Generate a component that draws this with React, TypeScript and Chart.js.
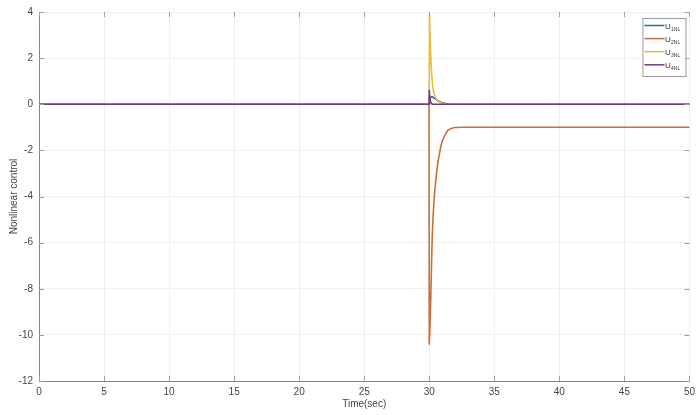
import React, { useEffect, useRef } from "react";
import { Chart, registerables } from "chart.js";

Chart.register(...registerables);

// ---- Data ----
const xTickValues = [0, 5, 10, 15, 20, 25, 30, 35, 40, 45, 50];
const yTickValues = [-12, -10, -8, -6, -4, -2, 0, 2, 4];

const seriesBase = ["U", "U", "U", "U"];
const seriesSubscripts = ["1NL", "2NL", "3NL", "4NL"];

const u1Time = [0, 30, 30.05, 30.1, 30.2, 30.3, 30.5, 30.7, 31.0, 31.3, 31.6, 50];
const u1Values = [0, 0, 0.2, 0.3, 0.33, 0.3, 0.22, 0.14, 0.06, 0.02, 0, 0];

const u2Time = [0, 29.98, 30.0, 30.05, 30.1, 30.15, 30.2, 30.25, 30.3, 30.4, 30.5, 30.6, 30.7, 30.8, 30.9, 31.0, 31.2, 31.4, 31.6, 31.8, 32.0, 32.5, 50];
const u2Values = [0, 0, -10.4, -9.7, -8.7, -7.6, -6.3, -5.4, -4.8, -3.9, -3.3, -2.8, -2.4, -2.1, -1.8, -1.6, -1.35, -1.15, -1.07, -1.03, -1.01, -1.0, -1.0];

const u3Time = [0, 29.99, 30.02, 30.05, 30.1, 30.15, 30.25, 30.35, 30.5, 30.7, 31.0, 31.3, 50];
const u3Values = [0, 0, 3.9, 3.1, 2.3, 1.6, 0.85, 0.5, 0.26, 0.12, 0.04, 0, 0];

const u4Time = [0, 29.99, 30.0, 30.03, 30.08, 30.15, 30.3, 50];
const u4Values = [0, 0, 0.6, 0.4, 0.15, 0.03, 0, 0];

// ---- Styles ----
const FONT = "'Liberation Sans', Arial, Helvetica, sans-serif";
const COLORS = ["#23709f", "#c4703c", "#e6bd36", "#6f3a86"];
const TEXT_COLOR = "#454545";
const GRID_COLOR = "#efefef";
const AXIS_COLOR = "#858585";

const toPoints = (t: number[], v: number[]) => t.map((x, i) => ({ x, y: v[i] }));

const legendPlugin = {
  id: "matlabLegend",
  afterDraw(chart: any) {
    const { ctx, chartArea } = chart;
    const boxL = chartArea.right - 47;
    const boxT = chartArea.top + 6;
    const boxW = 43;
    const boxH = 58;
    ctx.save();
    ctx.fillStyle = "#ffffff";
    ctx.fillRect(boxL, boxT, boxW, boxH);
    ctx.strokeStyle = "#9a9a9a";
    ctx.lineWidth = 1;
    ctx.strokeRect(boxL + 0.5, boxT + 0.5, boxW, boxH);
    chart.data.datasets.forEach((ds: any, i: number) => {
      const y = boxT + 7.5 + i * 13.1;
      ctx.strokeStyle = ds.borderColor;
      ctx.lineWidth = 1.5;
      ctx.beginPath();
      ctx.moveTo(boxL + 2, y);
      ctx.lineTo(boxL + 22, y);
      ctx.stroke();
      ctx.fillStyle = "#333";
      ctx.textBaseline = "alphabetic";
      ctx.textAlign = "left";
      ctx.font = `8px ${FONT}`;
      const base = seriesBase[i];
      ctx.fillText(base, boxL + 22.5, y + 3);
      const w = ctx.measureText(base).width;
      ctx.font = `5px ${FONT}`;
      ctx.fillText(seriesSubscripts[i], boxL + 22.5 + w + 0.3, y + 5);
    });
    ctx.restore();
  },
};

const inwardTicksPlugin = {
  id: "inwardTicks",
  afterDatasetsDraw(chart: any) {
    const { ctx, chartArea, scales } = chart;
    const len = 5;
    ctx.save();
    ctx.strokeStyle = "#a0a0a0";
    ctx.lineWidth = 1;
    ctx.beginPath();
    xTickValues.forEach((v) => {
      const px = Math.round(scales.x.getPixelForValue(v)) + 0.5;
      ctx.moveTo(px, chartArea.bottom);
      ctx.lineTo(px, chartArea.bottom - len);
      ctx.moveTo(px, chartArea.top);
      ctx.lineTo(px, chartArea.top + len);
    });
    yTickValues.forEach((v) => {
      const py = Math.round(scales.y.getPixelForValue(v)) + 0.5;
      ctx.moveTo(chartArea.left, py);
      ctx.lineTo(chartArea.left + len, py);
      ctx.moveTo(chartArea.right, py);
      ctx.lineTo(chartArea.right - len, py);
    });
    ctx.stroke();
    ctx.restore();
  },
};

export default function App() {
  const canvasRef = useRef<HTMLCanvasElement | null>(null);

  useEffect(() => {
    document.body.style.margin = "0";
    const canvas = canvasRef.current;
    if (!canvas) return;
    const seriesTimes = [u1Time, u2Time, u3Time, u4Time];
    const seriesValues = [u1Values, u2Values, u3Values, u4Values];
    const datasets = seriesTimes.map((t, i) => ({
      label: seriesBase[i] + seriesSubscripts[i],
      data: toPoints(t, seriesValues[i]),
      borderColor: COLORS[i],
      backgroundColor: COLORS[i],
      borderWidth: 1.6,
      borderJoinStyle: "round",
      borderCapStyle: "round",
      pointRadius: 0,
      fill: false,
      tension: 0.0001,
      order: 3 - i,
    }));

    const chart = new Chart(canvas, {
      type: "line",
      data: { datasets },
      options: {
        animation: false,
        responsive: false,
        maintainAspectRatio: false,
        layout: { padding: { top: 9, right: 9, left: 0, bottom: 0 } },
        plugins: {
          legend: { display: false },
          tooltip: { enabled: false },
        },
        scales: {
          x: {
            type: "linear",
            min: 0,
            max: 50,
            afterBuildTicks: (scale: any) => {
              scale.ticks = xTickValues.map((v) => ({ value: v }));
            },
            afterFit: (scale: any) => {
              scale.height = 34;
            },
            ticks: {
              color: TEXT_COLOR,
              font: { size: 10, family: FONT },
              padding: 5,
              maxRotation: 0,
              autoSkip: false,
            },
            grid: { color: GRID_COLOR, drawTicks: false, lineWidth: 1 },
            border: { color: AXIS_COLOR, width: 1 },
            title: {
              display: true,
              text: "Time(sec)",
              color: TEXT_COLOR,
              font: { size: 10, family: FONT },
              padding: { top: 0, bottom: 5 },
            },
          },
          y: {
            type: "linear",
            min: -12,
            max: 4,
            afterBuildTicks: (scale: any) => {
              scale.ticks = yTickValues.map((v) => ({ value: v }));
            },
            afterFit: (scale: any) => {
              scale.width = 39;
            },
            ticks: {
              color: TEXT_COLOR,
              font: { size: 10, family: FONT },
              padding: 6,
              autoSkip: false,
            },
            grid: { color: GRID_COLOR, drawTicks: false, lineWidth: 1 },
            border: { color: AXIS_COLOR, width: 1 },
            title: {
              display: true,
              text: "Nonlinear control",
              color: TEXT_COLOR,
              font: { size: 10, family: FONT },
              padding: { top: 8, bottom: 0 },
            },
          },
        },
      },
      plugins: [inwardTicksPlugin, legendPlugin],
    } as any);

    return () => chart.destroy();
  }, []);

  return (
    <div style={{ width: 700, height: 415, background: "#ffffff" }}>
      <canvas ref={canvasRef} width={700} height={415} style={{ display: "block" }} />
    </div>
  );
}
